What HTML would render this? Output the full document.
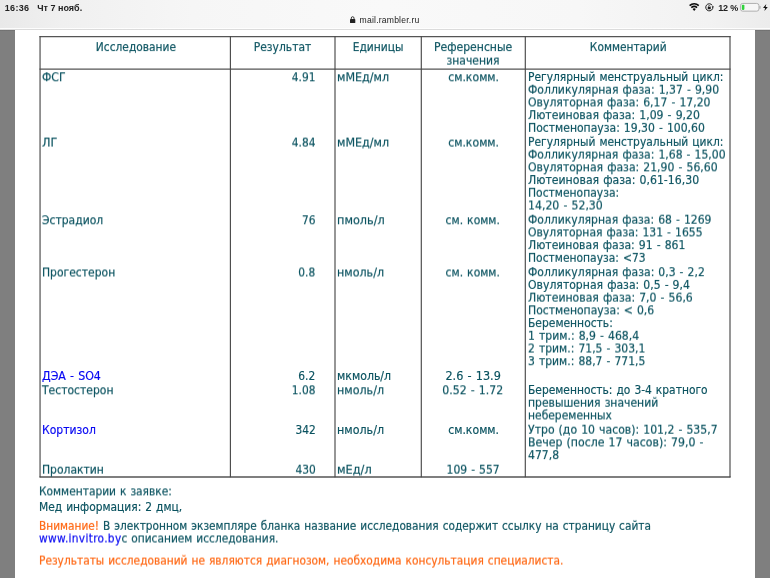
<!DOCTYPE html>
<html lang="ru"><head><meta charset="utf-8"><title>mail.rambler.ru</title>
<style>
html,body{margin:0;padding:0;}
body{width:770px;height:578px;position:relative;overflow:hidden;background:#fff;font-family:"DejaVu Sans Condensed","Liberation Sans",sans-serif;}
.bar{position:absolute;left:0;top:0;width:770px;height:29.5px;background:linear-gradient(90deg,#e9e9e9 0%,#f0f0f0 8%,#f6f6f6 25%,#f9f9f9 50%,#f7f7f7 75%,#f2f2f2 92%,#ececec 100%);}
.bar:after{content:"";position:absolute;left:0;right:0;bottom:0;height:2px;background:linear-gradient(180deg,rgba(255,255,255,.9) 0,rgba(255,255,255,.9) 45%,#dedede 55%,#d8d8d8 100%);}
.gl{position:absolute;left:0;top:29.5px;width:15px;height:549px;background:linear-gradient(180deg,#6c6c6c 0,#7f7f7f 1.5px,#7f7f7f 100%);}
.gr{position:absolute;left:755px;top:29.5px;width:15px;height:549px;background:linear-gradient(180deg,#6c6c6c 0,#7f7f7f 1.5px,#7f7f7f 100%);}
.sb{position:absolute;font-family:"Liberation Sans",sans-serif;font-weight:bold;font-size:9px;line-height:10px;color:#222;white-space:nowrap;}
.url{position:absolute;font-family:"Liberation Sans",sans-serif;font-size:8.6px;line-height:10px;color:#222;white-space:nowrap;}
.t{position:absolute;will-change:transform;-webkit-text-stroke:0.18px;font-size:12.7px;line-height:12.72px;color:#0b5360;white-space:nowrap;word-spacing:0.65px;}
.i{display:inline-block;}
.ln{position:absolute;background:#4a4a4a;}
svg{position:absolute;overflow:visible;}
</style></head><body>
<div class="bar"></div>
<div class="gl"></div><div class="gr"></div>
<div class="sb" style="left:4.8px;top:2.8px;letter-spacing:.3px;">16:36</div>
<div class="sb" style="left:37.3px;top:2.8px;">Чт 7 нояб.</div>
<div class="sb" style="left:718.3px;top:2.6px;letter-spacing:-.2px;">12 %</div>
<div class="url" style="left:359.6px;top:15.0px;letter-spacing:.2px;">mail.rambler.ru</div>
<!-- lock -->
<svg style="left:349.8px;top:16.4px" width="5.3" height="7.1" viewBox="0 0 5.4 7" preserveAspectRatio="none"><rect x="0" y="2.9" width="5.4" height="4.1" rx=".7" fill="#222"/><path d="M1.3 3.2V2.1a1.4 1.4 0 0 1 2.8 0V3.2" fill="none" stroke="#222" stroke-width=".9"/></svg>
<!-- wifi -->
<svg style="left:689.2px;top:3.3px" width="10.4" height="8" viewBox="0 0 10.4 8"><g fill="none" stroke="#0a0a0a" stroke-width="1.6"><path d="M0.61 2.62A7 7 0 0 1 9.79 2.62"/><path d="M2.31 4.58A4.4 4.4 0 0 1 8.09 4.58"/></g><path d="M5.2 7.95L3.56 6.01A2.5 2.5 0 0 1 6.84 6.01z" fill="#0a0a0a"/></svg>
<!-- rotation lock -->
<svg style="left:704.9px;top:3.3px" width="8.6" height="8.6" viewBox="0 0 8.6 8.6"><path d="M7.85 4.0A3.55 3.55 0 1 1 7.3 2.4" fill="none" stroke="#1c1c1c" stroke-width="1"/><path d="M6.7 3.3h2.2l-1.1 1.7z" fill="#1c1c1c"/><rect x="2.75" y="3.9" width="3" height="2.3" rx=".3" fill="#1c1c1c"/><path d="M3.45 4.1V3.3a.8.8 0 0 1 1.6 0V4.1" fill="none" stroke="#1c1c1c" stroke-width=".7"/></svg>
<!-- battery -->
<svg style="left:740.2px;top:3.3px" width="20.6" height="8.6" viewBox="0 0 20.6 8.6"><rect x=".45" y=".45" width="18.5" height="7.7" rx="2.2" fill="#f6f6f6" stroke="#a4a4a4" stroke-width=".85"/><rect x="19.5" y="2.9" width="1" height="2.8" rx=".5" fill="#a4a4a4"/><rect x="1.8" y="1.7" width="2.6" height="5.2" rx=".8" fill="#30d33c"/></svg>
<!-- bolt -->
<svg style="left:762.6px;top:4.0px" width="4.8" height="7" viewBox="0 0 4.8 7"><path d="M3.3 0L0 3.95h2.1L1.4 7 4.8 2.9H2.6z" fill="#111"/></svg>
<!-- table lines -->
<svg style="left:0;top:0" width="770" height="578" viewBox="0 0 770 578"><g stroke="#4a4a4a" stroke-width="1.15" fill="none">
<path d="M39.5 36.6H730.6M39.5 69.1H730.6M39.5 477.0H730.6" stroke="#555" stroke-width="1.35"/>
<path d="M40.05 36V477.3M230.4 36V477.3M335.0 36V477.3M421.3 36V477.3M525.3 36V477.3M730.0 36V477.3"/>
</g></svg>
<div class="t" style="top:41px;left:92.64px;transform:translateY(0.10px) rotate(.0001deg);"><span class="i" style="transform-origin:50% 0;transform:scaleX(0.9334)">Исследование</span></div>
<div class="t" style="top:41px;left:252.33px;transform:translateY(0.10px) rotate(.0001deg);"><span class="i" style="transform-origin:50% 0;transform:scaleX(0.9419)">Результат</span></div>
<div class="t" style="top:41px;left:351.16px;transform:translateY(0.10px) rotate(.0001deg);"><span class="i" style="transform-origin:50% 0;transform:scaleX(0.9393)">Единицы</span></div>
<div class="t" style="top:41px;left:432.29px;transform:translateY(0.10px) rotate(.0001deg);"><span class="i" style="transform-origin:50% 0;transform:scaleX(0.9523)">Референсные</span></div>
<div class="t" style="top:54px;left:445.38px;transform:translateY(0.60px) rotate(.0001deg);"><span class="i" style="transform-origin:50% 0;transform:scaleX(0.9439)">значения</span></div>
<div class="t" style="top:41px;left:586.73px;transform:translateY(0.10px) rotate(.0001deg);"><span class="i" style="transform-origin:50% 0;transform:scaleX(0.9310)">Комментарий</span></div>
<div class="t" style="top:71px;left:42.20px;transform:translateY(0.30px) rotate(.0001deg);"><span class="i" style="transform-origin:0 0;transform:scaleX(0.9489)">ФСГ</span></div>
<div class="t" style="top:71px;right:454.60px;transform:translateY(0.30px) rotate(.0001deg);"><span class="i" style="transform-origin:100% 0;transform:scaleX(0.9310)">4.91</span></div>
<div class="t" style="top:71px;left:337.30px;transform:translateY(0.30px) rotate(.0001deg);"><span class="i" style="transform-origin:0 0;transform:scaleX(0.9770)">мМЕд/мл</span></div>
<div class="t" style="top:71px;left:446.58px;transform:translateY(0.30px) rotate(.0001deg);"><span class="i" style="transform-origin:50% 0;transform:scaleX(0.9561)">см.комм.</span></div>
<div class="t" style="top:71px;left:528.40px;transform:translateY(0.00px) rotate(.0001deg);"><span class="i" style="transform-origin:0 0;transform:scaleX(0.9363)">Регулярный менструальный цикл:</span></div>
<div class="t" style="top:83px;left:528.40px;transform:translateY(0.72px) rotate(.0001deg);"><span class="i" style="transform-origin:0 0;transform:scaleX(0.9512)">Фолликулярная фаза: 1,37 - 9,90</span></div>
<div class="t" style="top:96px;left:528.40px;transform:translateY(0.44px) rotate(.0001deg);"><span class="i" style="transform-origin:0 0;transform:scaleX(0.9516)">Овуляторная фаза: 6,17 - 17,20</span></div>
<div class="t" style="top:109px;left:528.40px;transform:translateY(0.16px) rotate(.0001deg);"><span class="i" style="transform-origin:0 0;transform:scaleX(0.9549)">Лютеиновая фаза: 1,09 - 9,20</span></div>
<div class="t" style="top:121px;left:528.40px;transform:translateY(0.88px) rotate(.0001deg);"><span class="i" style="transform-origin:0 0;transform:scaleX(0.9493)">Постменопауза: 19,30 - 100,60</span></div>
<div class="t" style="top:136px;left:42.20px;transform:translateY(0.60px) rotate(.0001deg);"><span class="i" style="transform-origin:0 0;transform:scaleX(0.9896)">ЛГ</span></div>
<div class="t" style="top:136px;right:454.60px;transform:translateY(0.60px) rotate(.0001deg);"><span class="i" style="transform-origin:100% 0;transform:scaleX(0.9310)">4.84</span></div>
<div class="t" style="top:136px;left:337.30px;transform:translateY(0.60px) rotate(.0001deg);"><span class="i" style="transform-origin:0 0;transform:scaleX(0.9770)">мМЕд/мл</span></div>
<div class="t" style="top:136px;left:446.58px;transform:translateY(0.60px) rotate(.0001deg);"><span class="i" style="transform-origin:50% 0;transform:scaleX(0.9561)">см.комм.</span></div>
<div class="t" style="top:135px;left:528.40px;transform:translateY(0.90px) rotate(.0001deg);"><span class="i" style="transform-origin:0 0;transform:scaleX(0.9363)">Регулярный менструальный цикл:</span></div>
<div class="t" style="top:148px;left:528.40px;transform:translateY(0.62px) rotate(.0001deg);"><span class="i" style="transform-origin:0 0;transform:scaleX(0.9493)">Фолликулярная фаза: 1,68 - 15,00</span></div>
<div class="t" style="top:161px;left:528.40px;transform:translateY(0.34px) rotate(.0001deg);"><span class="i" style="transform-origin:0 0;transform:scaleX(0.9525)">Овуляторная фаза: 21,90 - 56,60</span></div>
<div class="t" style="top:174px;left:528.40px;transform:translateY(0.06px) rotate(.0001deg);"><span class="i" style="transform-origin:0 0;transform:scaleX(0.9573)">Лютеиновая фаза: 0,61-16,30</span></div>
<div class="t" style="top:186px;left:528.40px;transform:translateY(0.78px) rotate(.0001deg);"><span class="i" style="transform-origin:0 0;transform:scaleX(0.9421)">Постменопауза:</span></div>
<div class="t" style="top:199px;left:528.40px;transform:translateY(0.50px) rotate(.0001deg);"><span class="i" style="transform-origin:0 0;transform:scaleX(0.9588)">14,20 - 52,30</span></div>
<div class="t" style="top:214px;left:42.20px;transform:translateY(0.30px) rotate(.0001deg);"><span class="i" style="transform-origin:0 0;transform:scaleX(0.9454)">Эстрадиол</span></div>
<div class="t" style="top:214px;right:454.60px;transform:translateY(0.30px) rotate(.0001deg);"><span class="i" style="transform-origin:100% 0;transform:scaleX(0.9310)">76</span></div>
<div class="t" style="top:214px;left:337.30px;transform:translateY(0.30px) rotate(.0001deg);"><span class="i" style="transform-origin:0 0;transform:scaleX(0.9889)">пмоль/л</span></div>
<div class="t" style="top:214px;left:444.44px;transform:translateY(0.30px) rotate(.0001deg);"><span class="i" style="transform-origin:50% 0;transform:scaleX(0.9441)">см. комм.</span></div>
<div class="t" style="top:213px;left:528.40px;transform:translateY(0.70px) rotate(.0001deg);"><span class="i" style="transform-origin:0 0;transform:scaleX(0.9470)">Фолликулярная фаза: 68 - 1269</span></div>
<div class="t" style="top:226px;left:528.40px;transform:translateY(0.42px) rotate(.0001deg);"><span class="i" style="transform-origin:0 0;transform:scaleX(0.9456)">Овуляторная фаза: 131 - 1655</span></div>
<div class="t" style="top:239px;left:528.40px;transform:translateY(0.14px) rotate(.0001deg);"><span class="i" style="transform-origin:0 0;transform:scaleX(0.9511)">Лютеиновая фаза: 91 - 861</span></div>
<div class="t" style="top:251px;left:528.40px;transform:translateY(0.86px) rotate(.0001deg);"><span class="i" style="transform-origin:0 0;transform:scaleX(0.9403)">Постменопауза: &lt;73</span></div>
<div class="t" style="top:266px;left:42.20px;transform:translateY(0.50px) rotate(.0001deg);"><span class="i" style="transform-origin:0 0;transform:scaleX(0.9447)">Прогестерон</span></div>
<div class="t" style="top:266px;right:454.60px;transform:translateY(0.50px) rotate(.0001deg);"><span class="i" style="transform-origin:100% 0;transform:scaleX(0.9310)">0.8</span></div>
<div class="t" style="top:266px;left:337.30px;transform:translateY(0.50px) rotate(.0001deg);"><span class="i" style="transform-origin:0 0;transform:scaleX(0.9744)">нмоль/л</span></div>
<div class="t" style="top:266px;left:444.44px;transform:translateY(0.50px) rotate(.0001deg);"><span class="i" style="transform-origin:50% 0;transform:scaleX(0.9441)">см. комм.</span></div>
<div class="t" style="top:266px;left:528.40px;transform:translateY(0.20px) rotate(.0001deg);"><span class="i" style="transform-origin:0 0;transform:scaleX(0.9486)">Фолликулярная фаза: 0,3 - 2,2</span></div>
<div class="t" style="top:278px;left:528.40px;transform:translateY(0.92px) rotate(.0001deg);"><span class="i" style="transform-origin:0 0;transform:scaleX(0.9524)">Овуляторная фаза: 0,5 - 9,4</span></div>
<div class="t" style="top:291px;left:528.40px;transform:translateY(0.64px) rotate(.0001deg);"><span class="i" style="transform-origin:0 0;transform:scaleX(0.9540)">Лютеиновая фаза: 7,0 - 56,6</span></div>
<div class="t" style="top:304px;left:528.40px;transform:translateY(0.36px) rotate(.0001deg);"><span class="i" style="transform-origin:0 0;transform:scaleX(0.9491)">Постменопауза: &lt; 0,6</span></div>
<div class="t" style="top:317px;left:528.40px;transform:translateY(0.08px) rotate(.0001deg);"><span class="i" style="transform-origin:0 0;transform:scaleX(0.9403)">Беременность:</span></div>
<div class="t" style="top:329px;left:528.40px;transform:translateY(0.80px) rotate(.0001deg);"><span class="i" style="transform-origin:0 0;transform:scaleX(0.9521)">1 трим.: 8,9 - 468,4</span></div>
<div class="t" style="top:342px;left:528.40px;transform:translateY(0.52px) rotate(.0001deg);"><span class="i" style="transform-origin:0 0;transform:scaleX(0.9471)">2 трим.: 71,5 - 303,1</span></div>
<div class="t" style="top:355px;left:528.40px;transform:translateY(0.24px) rotate(.0001deg);"><span class="i" style="transform-origin:0 0;transform:scaleX(0.9471)">3 трим.: 88,7 - 771,5</span></div>
<div class="t" style="top:370px;left:42.20px;color:#0808f2;transform:translateY(0.00px) rotate(.0001deg);"><span class="i" style="transform-origin:0 0;transform:scaleX(0.9678)">ДЭА - SO4</span></div>
<div class="t" style="top:370px;right:454.60px;transform:translateY(0.00px) rotate(.0001deg);"><span class="i" style="transform-origin:100% 0;transform:scaleX(0.9310)">6.2</span></div>
<div class="t" style="top:370px;left:337.30px;transform:translateY(0.00px) rotate(.0001deg);"><span class="i" style="transform-origin:0 0;transform:scaleX(0.9612)">мкмоль/л</span></div>
<div class="t" style="top:370px;left:445.08px;transform:translateY(0.00px) rotate(.0001deg);"><span class="i" style="transform-origin:50% 0;transform:scaleX(0.9852)">2.6 - 13.9</span></div>
<div class="t" style="top:384px;left:42.20px;transform:translateY(0.30px) rotate(.0001deg);"><span class="i" style="transform-origin:0 0;transform:scaleX(0.9464)">Тестостерон</span></div>
<div class="t" style="top:384px;right:454.60px;transform:translateY(0.30px) rotate(.0001deg);"><span class="i" style="transform-origin:100% 0;transform:scaleX(0.9310)">1.08</span></div>
<div class="t" style="top:384px;left:337.30px;transform:translateY(0.30px) rotate(.0001deg);"><span class="i" style="transform-origin:0 0;transform:scaleX(0.9744)">нмоль/л</span></div>
<div class="t" style="top:384px;left:441.46px;transform:translateY(0.30px) rotate(.0001deg);"><span class="i" style="transform-origin:50% 0;transform:scaleX(0.9593)">0.52 - 1.72</span></div>
<div class="t" style="top:384px;left:528.40px;transform:translateY(0.00px) rotate(.0001deg);"><span class="i" style="transform-origin:0 0;transform:scaleX(0.9367)">Беременность: до 3-4 кратного</span></div>
<div class="t" style="top:396px;left:528.40px;transform:translateY(0.72px) rotate(.0001deg);"><span class="i" style="transform-origin:0 0;transform:scaleX(0.9464)">превышения значений</span></div>
<div class="t" style="top:409px;left:528.40px;transform:translateY(0.44px) rotate(.0001deg);"><span class="i" style="transform-origin:0 0;transform:scaleX(0.9409)">небеременных</span></div>
<div class="t" style="top:424px;left:42.20px;color:#0808f2;transform:translateY(0.00px) rotate(.0001deg);"><span class="i" style="transform-origin:0 0;transform:scaleX(0.9498)">Кортизол</span></div>
<div class="t" style="top:424px;right:454.60px;transform:translateY(0.00px) rotate(.0001deg);"><span class="i" style="transform-origin:100% 0;transform:scaleX(0.9310)">342</span></div>
<div class="t" style="top:424px;left:337.30px;transform:translateY(0.00px) rotate(.0001deg);"><span class="i" style="transform-origin:0 0;transform:scaleX(0.9744)">нмоль/л</span></div>
<div class="t" style="top:424px;left:446.58px;transform:translateY(0.00px) rotate(.0001deg);"><span class="i" style="transform-origin:50% 0;transform:scaleX(0.9561)">см.комм.</span></div>
<div class="t" style="top:423px;left:528.40px;transform:translateY(0.70px) rotate(.0001deg);"><span class="i" style="transform-origin:0 0;transform:scaleX(0.9537)">Утро (до 10 часов): 101,2 - 535,7</span></div>
<div class="t" style="top:436px;left:528.40px;transform:translateY(0.42px) rotate(.0001deg);"><span class="i" style="transform-origin:0 0;transform:scaleX(0.9594)">Вечер (после 17 часов): 79,0 -</span></div>
<div class="t" style="top:449px;left:528.40px;transform:translateY(0.14px) rotate(.0001deg);"><span class="i" style="transform-origin:0 0;transform:scaleX(0.9519)">477,8</span></div>
<div class="t" style="top:463px;left:42.20px;transform:translateY(0.70px) rotate(.0001deg);"><span class="i" style="transform-origin:0 0;transform:scaleX(0.9444)">Пролактин</span></div>
<div class="t" style="top:463px;right:454.60px;transform:translateY(0.70px) rotate(.0001deg);"><span class="i" style="transform-origin:100% 0;transform:scaleX(0.9310)">430</span></div>
<div class="t" style="top:463px;left:337.30px;transform:translateY(0.70px) rotate(.0001deg);"><span class="i" style="transform-origin:0 0;transform:scaleX(0.9950)">мЕд/л</span></div>
<div class="t" style="top:463px;left:445.08px;transform:translateY(0.70px) rotate(.0001deg);"><span class="i" style="transform-origin:50% 0;transform:scaleX(0.9460)">109 - 557</span></div>
<div class="t" style="top:485px;left:39.40px;transform:translateY(0.40px) rotate(.0001deg);"><span class="i" style="transform-origin:0 0;transform:scaleX(0.9333)">Комментарии к заявке:</span></div>
<div class="t" style="top:501px;left:39.40px;transform:translateY(0.00px) rotate(.0001deg);"><span class="i" style="transform-origin:0 0;transform:scaleX(0.9352)">Мед информация: 2 дмц,</span></div>
<div class="t" style="top:519px;left:39.40px;transform:translateY(0.90px) rotate(.0001deg);"><span class="i" style="transform-origin:0 0;transform:scaleX(0.9266)"><span style="color:#ff6611">Внимание!</span> В электронном экземпляре бланка название исследования содержит ссылку на страницу сайта</span></div>
<div class="t" style="top:532px;left:39.40px;transform:translateY(0.50px) rotate(.0001deg);"><span class="i" style="transform-origin:0 0;transform:scaleX(0.9300)"><span style="color:#0808f2;letter-spacing:.33px">www.invitro.by</span>с описанием исследования.</span></div>
<div class="t" style="top:554px;left:39.40px;color:#ff6611;transform:translateY(0.60px) rotate(.0001deg);"><span class="i" style="transform-origin:0 0;transform:scaleX(0.9310)">Результаты исследований не являются диагнозом, необходима консультация специалиста.</span></div>
</body></html>
